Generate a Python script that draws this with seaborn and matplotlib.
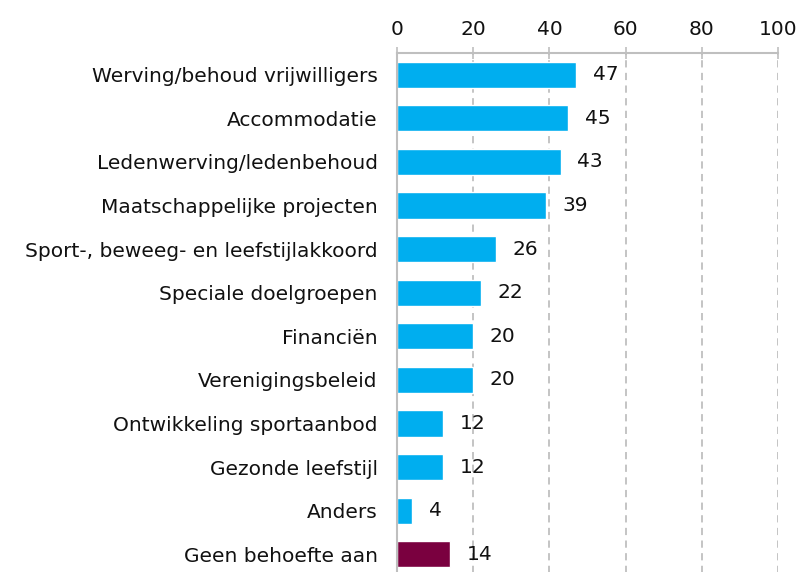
import numpy as np
import pandas as pd
import matplotlib
matplotlib.use("Agg")
import matplotlib.pyplot as plt
import seaborn as sns

#### Data ####
categories = [
    "Werving/behoud vrijwilligers",
    "Accommodatie",
    "Ledenwerving/ledenbehoud",
    "Maatschappelijke projecten",
    "Sport-, beweeg- en leefstijlakkoord",
    "Speciale doelgroepen",
    "Financiën",
    "Verenigingsbeleid",
    "Ontwikkeling sportaanbod",
    "Gezonde leefstijl",
    "Anders",
    "Geen behoefte aan",
]
values = [47, 45, 43, 39, 26, 22, 20, 20, 12, 12, 4, 14]
groups = ["thema"] * 11 + ["geen"]
x_ticks = [0, 20, 40, 60, 80, 100]

group_colors = {"thema": "#00AEEF", "geen": "#7A003F"}
grid_color = "#BFBFBF"
text_color = "#111111"

df = pd.DataFrame({"categorie": categories, "waarde": values, "groep": groups})

sns.set_style("white")
plt.rcParams["font.family"] = ["DejaVu Sans"]

fig = plt.figure(figsize=(8.02, 5.72), dpi=100)
ax = fig.add_axes([397 / 802, -4 / 572, (778 - 397) / 802, (572 - 53 + 4) / 572])

sns.barplot(data=df, x="waarde", y="categorie", hue="groep", palette=group_colors,
            dodge=False, width=0.6, legend=False, ax=ax, saturation=1)

ax.set_xlim(0, 100)
ax.set_ylim(len(categories) - 0.5, -0.5)
ax.set_xticks(x_ticks)
ax.xaxis.tick_top()
ax.tick_params(axis="x", which="major", direction="inout", length=8, width=1.2,
               color=grid_color, labelsize=14.5, labelcolor=text_color, pad=6)
ax.set_xlabel("")
ax.set_ylabel("")

# y ticks: labels at bar centers, tick marks between bars
ax.tick_params(axis="y", which="major", length=0, labelsize=14.5, labelcolor=text_color, pad=14)
ax.set_yticks(np.arange(len(categories) - 1) + 0.5, minor=True)
ax.tick_params(axis="y", which="minor", direction="out", length=6, width=1.2, color=grid_color)

for x in x_ticks[1:]:
    ax.axvline(x, color=grid_color, linestyle=(0, (4, 3)), linewidth=1.3, zorder=0)

for s in ["right", "bottom"]:
    ax.spines[s].set_visible(False)
for s in ["top", "left"]:
    ax.spines[s].set_color(grid_color)
    ax.spines[s].set_linewidth(1.5)

for i, v in enumerate(values):
    ax.annotate(str(v), xy=(v, i), xytext=(12, 0), textcoords="offset points",
                ha="left", va="center", fontsize=14.5, color=text_color)

fig.savefig("out.png", dpi=100)
plt.close(fig)
